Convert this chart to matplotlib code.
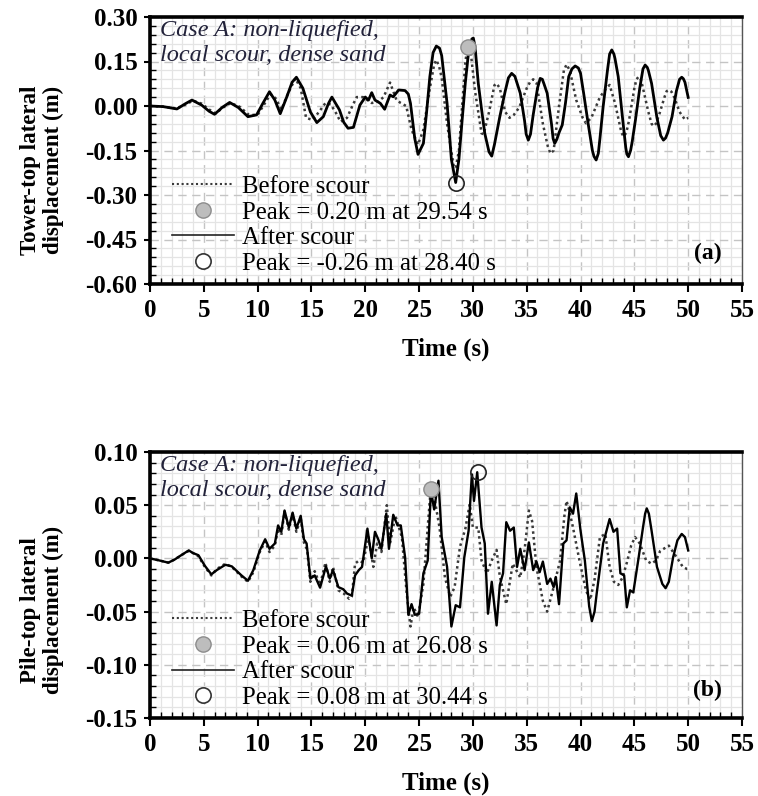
import numpy as np
import matplotlib
matplotlib.use("Agg")
import matplotlib.pyplot as plt
from matplotlib.lines import Line2D
from matplotlib.ticker import MultipleLocator

plt.rcParams['font.family'] = ['Liberation Serif', 'DejaVu Serif']

# ---------------- Data ----------------
# Panel (a): tower-top lateral displacement (m)
a_after_t = [0.0, 1.2, 2.5, 3.3, 3.9, 4.8, 5.5, 6.0, 6.7, 7.4, 8.2, 9.1, 9.9, 10.5, 11.1, 11.6,
             12.1, 12.7, 13.2, 13.6, 14.2, 14.9, 15.5, 16.1, 16.6, 16.9, 17.6, 18.0, 18.4, 18.9,
             19.5, 20.0, 20.3, 20.6, 20.9, 21.4, 21.8, 22.3, 22.6, 23.1, 23.7, 24.0, 24.2, 24.6,
             24.9, 25.4, 25.7, 26.0, 26.3, 26.6, 26.9, 27.1, 27.6, 28.0, 28.4, 28.7, 29.0, 29.3,
             29.6, 29.9, 30.04, 30.2, 30.5, 30.8, 31.1, 31.5, 31.75, 32.0, 32.5, 33.0, 33.3, 33.6,
             33.9, 34.4, 34.8, 34.95, 35.15, 35.35, 35.6, 36.0, 36.25, 36.45, 36.6, 36.9, 37.3,
             37.45, 37.6, 37.8, 38.0, 38.3, 38.6, 38.9, 39.2, 39.5, 39.8, 40.0, 40.3, 40.7, 41.1,
             41.25, 41.45, 41.65, 41.8, 42.1, 42.5, 42.7, 42.9, 43.1, 43.2, 43.5, 43.9, 44.2,
             44.3, 44.45, 44.65, 44.8, 45.1, 45.5, 45.8, 46.0, 46.2, 46.3, 46.6, 47.1, 47.45,
             47.7, 47.9, 48.1, 48.5, 48.9, 49.2, 49.4, 49.55, 49.7, 50.0]
a_after_v = [0.000, -0.002, -0.010, 0.008, 0.020, 0.003, -0.018, -0.028, -0.005, 0.012, -0.005,
             -0.036, -0.030, 0.010, 0.048, 0.020, -0.026, 0.030, 0.080, 0.097, 0.060, -0.020,
             -0.056, -0.036, 0.010, 0.030, -0.013, -0.055, -0.075, -0.072, 0.003, 0.030, 0.020,
             0.045, 0.020, 0.009, -0.011, 0.037, 0.031, 0.054, 0.052, 0.040, 0.009, -0.110,
             -0.163, -0.126, -0.020, 0.099, 0.180, 0.202, 0.195, 0.170, 0.009, -0.180, -0.258,
             -0.180, -0.047, 0.080, 0.183, 0.226, 0.229, 0.200, 0.076, -0.010, -0.092, -0.155,
             -0.169, -0.130, -0.036, 0.050, 0.095, 0.110, 0.100, 0.043, -0.050, -0.095, -0.115,
             -0.095, -0.030, 0.060, 0.093, 0.090, 0.075, 0.043, -0.060, -0.110, -0.126, -0.112,
             -0.090, -0.064, 0.010, 0.099, 0.125, 0.135, 0.128, 0.110, 0.040, -0.058, -0.150,
             -0.170, -0.182, -0.160, -0.110, -0.002, 0.120, 0.175, 0.189, 0.175, 0.160, 0.099,
             -0.040, -0.140, -0.162, -0.171, -0.150, -0.120, -0.047, 0.060, 0.125, 0.138, 0.130,
             0.120, 0.076, -0.040, -0.100, -0.115, -0.108, -0.090, -0.036, 0.050, 0.090, 0.097,
             0.092, 0.080, 0.029]

a_before_t = [0.0, 1.2, 2.5, 3.3, 4.0, 4.8, 5.5, 6.1, 6.8, 7.5, 8.3, 9.2, 10.0, 10.6, 11.2, 11.7,
              12.2, 12.8, 13.5, 14.0, 14.5, 15.1, 15.7, 16.3, 16.8, 17.3, 17.7, 18.3, 18.8, 19.2,
              19.8, 20.6, 21.2, 21.7, 22.3, 22.9, 23.3, 23.8, 24.3, 24.9, 25.4, 26.0, 26.4, 26.6,
              26.85, 27.1, 27.6, 28.2, 28.4, 28.7, 29.0, 29.3, 29.54, 29.8, 30.2, 30.8, 31.0, 31.5,
              32.0, 32.2, 32.5, 33.0, 33.4, 33.8, 34.3, 35.0, 35.3, 35.6, 35.9, 36.5, 36.95, 37.2,
              37.5, 38.0, 38.45, 38.7, 39.0, 39.6, 40.2, 40.5, 41.0, 41.8, 42.4, 42.7, 43.2, 43.8,
              44.0, 44.25, 44.5, 45.0, 45.2, 45.4, 45.6, 45.8, 46.3, 46.6, 46.8, 47.0, 47.3, 47.8,
              48.0, 48.2, 48.45, 48.7, 49.2, 49.7, 50.0]
a_before_v = [0.000, -0.002, -0.008, 0.005, 0.018, 0.008, -0.012, -0.025, -0.005, 0.010, -0.002,
              -0.030, -0.030, 0.005, 0.040, 0.025, -0.012, 0.040, 0.093, 0.060, -0.040, -0.047,
              -0.020, 0.010, 0.005, -0.025, -0.053, -0.040, 0.000, 0.030, 0.030, 0.010, 0.015,
              0.030, 0.079, 0.020, 0.010, 0.000, -0.080, -0.130, -0.080, 0.060, 0.140, 0.155,
              0.135, 0.095, -0.060, -0.200, -0.210, -0.150, 0.000, 0.150, 0.206, 0.180, 0.050,
              -0.092, -0.095, -0.020, 0.070, 0.076, 0.060, -0.020, -0.040, -0.030, -0.005, 0.060,
              0.080, 0.090, 0.080, -0.060, -0.135, -0.160, -0.150, 0.000, 0.120, 0.140, 0.120,
              0.020, -0.040, -0.058, -0.040, 0.030, 0.060, 0.071, 0.010, -0.090, -0.103, -0.090,
              -0.050, 0.060, 0.090, 0.099, 0.090, 0.060, -0.020, -0.060, -0.068, -0.060, -0.030,
              0.030, 0.050, 0.054, 0.048, 0.030, -0.020, -0.046, -0.040]

a_peak_before = (29.54, 0.20)
a_peak_after = (28.40, -0.26)

# Panel (b): pile-top lateral displacement (m)
b_after_t = [0.0, 0.9, 1.7, 2.3, 2.9, 3.6, 4.0, 4.5, 5.1, 5.7, 6.2, 7.0, 7.6, 8.5, 9.1, 9.6, 10.2,
             10.7, 11.1, 11.6, 11.9, 12.2, 12.5, 12.9, 13.25, 13.6, 14.0, 14.3, 14.55, 14.9, 15.3,
             15.8, 16.35, 16.7, 17.0, 17.5, 17.96, 18.3, 18.75, 19.05, 19.4, 19.7, 20.2, 20.6,
             20.9, 21.2, 21.5, 21.95, 22.2, 22.6, 23.0, 23.3, 23.7, 24.0, 24.3, 24.6, 25.0, 25.4,
             25.8, 26.1, 26.4, 26.8, 27.1, 27.4, 27.6, 28.0, 28.4, 28.8, 29.2, 29.6, 29.9, 30.1,
             30.4, 30.8, 31.1, 31.4, 31.75, 32.2, 32.5, 32.8, 33.1, 33.45, 33.8, 34.1, 34.4, 34.8,
             35.2, 35.6, 35.9, 36.2, 36.5, 36.9, 37.2, 37.5, 37.7, 38.0, 38.4, 38.7, 39.0, 39.3,
             39.6, 40.0, 40.4, 40.8, 41.05, 41.3, 41.5, 42.1, 42.7, 43.06, 43.4, 43.7, 44.05,
             44.3, 44.6, 44.9, 45.4, 45.8, 46.0, 46.15, 46.35, 46.6, 47.1, 47.6, 47.9, 48.2,
             48.6, 49.0, 49.4, 49.7, 50.0]
b_after_v = [0.000, -0.002, -0.004, -0.001, 0.003, 0.0075, 0.005, 0.003, -0.007, -0.015, -0.011,
             -0.006, -0.0075, -0.016, -0.021, -0.011, 0.0075, 0.018, 0.009, 0.014, 0.031, 0.025,
             0.045, 0.029, 0.043, 0.028, 0.040, 0.018, 0.014, -0.019, -0.016, -0.0275, -0.0075,
             -0.019, -0.011, -0.027, -0.029, -0.033, -0.035, -0.016, -0.011, -0.008, 0.028, 0.000,
             0.025, 0.018, 0.009, 0.042, 0.009, 0.041, 0.031, 0.031, 0.001, -0.053, -0.043, -0.053,
             -0.052, -0.014, -0.002, 0.064, 0.046, 0.073, 0.020, 0.003, -0.008, -0.064, -0.044,
             -0.046, 0.001, 0.026, 0.079, 0.054, 0.081, 0.029, 0.014, -0.052, -0.022, -0.063,
             -0.025, -0.014, 0.034, 0.026, 0.029, -0.008, 0.009, -0.011, 0.015, -0.011, -0.003,
             -0.013, -0.003, -0.024, -0.019, -0.027, -0.0175, -0.043, 0.014, 0.017, 0.048, 0.042,
             0.061, 0.026, -0.002, -0.045, -0.059, -0.050, -0.033, 0.014, 0.037, 0.025, 0.028,
             -0.014, -0.016, -0.046, -0.030, -0.032, 0.001, 0.029, 0.042, 0.047, 0.042, 0.026,
             -0.008, -0.024, -0.028, -0.022, 0.001, 0.017, 0.023, 0.020, 0.0075]

b_before_t = [0.0, 0.9, 1.7, 2.3, 2.9, 3.6, 4.0, 4.5, 5.1, 5.7, 6.2, 7.0, 7.6, 8.5, 9.1, 9.6,
              10.2, 10.7, 11.1, 11.6, 11.9, 12.2, 12.5, 12.9, 13.25, 13.6, 14.0, 14.3, 14.6, 14.9,
              15.3, 15.8, 16.3, 16.7, 17.0, 17.5, 18.0, 18.5, 18.75, 19.05, 19.4, 19.8, 20.3,
              20.75, 21.1, 21.5, 22.0, 22.3, 22.8, 23.4, 23.85, 24.2, 24.5, 24.9, 25.4, 25.86,
              26.08, 26.4, 26.9, 27.4, 27.9, 28.3, 28.8, 29.3, 29.7, 30.0, 30.5, 30.8, 31.3, 31.75,
              32.2, 32.5, 33.1, 33.7, 34.4, 34.8, 35.2, 35.5, 35.9, 36.5, 36.9, 37.5, 38.1, 38.5,
              38.7, 38.95, 39.3, 39.9, 40.5, 40.9, 41.3, 41.8, 42.3, 42.7, 43.1, 43.5, 43.9, 44.3,
              44.7, 45.07, 45.5, 46.1, 46.6, 47.0, 47.4, 48.2, 49.0, 49.5, 49.9, 50.0]
b_before_v = [0.000, -0.002, -0.004, -0.001, 0.003, 0.007, 0.005, 0.002, -0.008, -0.016, -0.010,
              -0.005, -0.008, -0.017, -0.022, -0.013, 0.006, 0.016, 0.006, 0.012, 0.028, 0.022,
              0.044, 0.027, 0.042, 0.025, 0.038, 0.015, 0.008, -0.022, -0.012, -0.025, -0.004,
              -0.022, -0.008, -0.030, -0.033, -0.038, -0.036, -0.005, -0.002, -0.004, 0.020,
              -0.008, 0.014, 0.006, 0.050, 0.014, 0.040, 0.020, -0.033, -0.064, -0.046, -0.055,
              -0.024, 0.037, 0.065, 0.058, 0.029, -0.018, -0.036, -0.027, 0.011, 0.028, 0.051,
              0.029, 0.029, -0.002, -0.014, -0.002, 0.008, -0.017, -0.043, -0.005, -0.018, 0.008,
              0.045, 0.035, -0.008, -0.040, -0.050, -0.027, -0.002, 0.040, 0.054, 0.045, 0.029,
              -0.002, -0.030, -0.039, -0.020, 0.020, 0.023, -0.008, -0.022, -0.025, -0.018,
              -0.004, 0.012, 0.020, 0.014, -0.002, -0.005, -0.002, 0.007, 0.012, 0.000, -0.008,
              -0.010, -0.010]

b_peak_before = (26.08, 0.065)
b_peak_after = (30.44, 0.081)

x_ticks = [0, 5, 10, 15, 20, 25, 30, 35, 40, 45, 50, 55]
a_yticks = [0.30, 0.15, 0.00, -0.15, -0.30, -0.45, -0.60]
b_yticks = [0.10, 0.05, 0.00, -0.05, -0.10, -0.15]

a_ylabel = "Tower-top lateral\ndisplacement (m)"
b_ylabel = "Pile-top lateral\ndisplacement (m)"
a_legend = ["Before scour", "Peak = 0.20 m at 29.54 s", "After scour", "Peak = -0.26 m at 28.40 s"]
b_legend = ["Before scour", "Peak = 0.06 m at 26.08 s", "After scour", "Peak = 0.08 m at 30.44 s"]
case_text = "Case A: non-liquefied,\nlocal scour, dense sand"

# ---------------- Figure ----------------
fig = plt.figure(figsize=(7.58, 7.96), dpi=100)
W, H = 758, 796
ax1 = fig.add_axes([150 / W, 1 - 284 / H, 592 / W, 267 / H])
ax2 = fig.add_axes([150 / W, 1 - 718 / H, 592 / W, 266 / H])

DOT = (0, (1.0, 1.3))
GREY_FC = '#bdbdbd'


def style(ax, yticks, yminor, ylabel, label, label_y, ylab_y):
    ax.set_xlim(0, 55)
    ax.set_ylim(min(yticks), max(yticks))
    ax.set_xticks(x_ticks)
    ax.set_yticks(yticks)
    ax.set_yticklabels([f"{v:.2f}" for v in yticks])
    ax.xaxis.set_minor_locator(MultipleLocator(1))
    ax.yaxis.set_minor_locator(MultipleLocator(yminor))
    ax.set_axisbelow(True)
    ax.grid(which='minor', color='#e4e4e4', lw=0.9, ls='-')
    ax.grid(which='major', color='#c4c4c4', lw=1.0, ls=(0, (6, 4)))
    ax.tick_params(axis='x', which='major', direction='out', length=6, width=1.5,
                   labelsize=18, pad=5)
    ax.tick_params(axis='y', which='major', direction='out', length=4, width=1.5,
                   labelsize=18, pad=5)
    ax.tick_params(which='minor', direction='in', length=4, width=1.0)
    for lab in ax.get_xticklabels() + ax.get_yticklabels():
        lab.set_fontweight('bold')
    for s in ['left', 'bottom', 'top']:
        ax.spines[s].set_linewidth(2.6)
        ax.spines[s].set_color('black')
    ax.spines['right'].set_linewidth(1.0)
    ax.spines['right'].set_color('#555555')
    ax.set_xlabel("Time (s)", fontsize=18, fontweight='bold', labelpad=11)
    ax.set_ylabel(ylabel, fontsize=16.5, fontweight='bold', linespacing=1.1)
    ax.yaxis.set_label_coords(-0.146, ylab_y)
    ax.text(0.966, label_y, label, transform=ax.transAxes, ha='right', va='center',
            fontsize=17, fontweight='bold')
    ax.text(0.017, 0.99, case_text, transform=ax.transAxes, ha='left', va='top',
            fontsize=17.5, fontstyle='italic', color='#22223a', linespacing=1.25)


def draw(ax, bt, bv, at, av, pb, pa, labels, solid_lw):
    ax.plot(bt, bv, color='#3a3a3a', lw=1.8, ls=DOT, zorder=3)
    ax.plot(at, av, color='black', lw=solid_lw, ls='-', zorder=4, solid_joinstyle='round')
    ax.plot([pb[0]], [pb[1]], 'o', ms=11, mfc=GREY_FC, mec='#8c8c8c', mew=1.0, zorder=5)
    ax.plot([pa[0]], [pa[1]], 'o', ms=11, mfc='none', mec='#222222', mew=1.2, zorder=5)
    handles = [
        Line2D([], [], color='#3a3a3a', lw=1.5, ls=DOT),
        Line2D([], [], ls='none', marker='o', ms=11, mfc=GREY_FC, mec='#8c8c8c', mew=1.0),
        Line2D([], [], color='#222222', lw=1.2, ls='-'),
        Line2D([], [], ls='none', marker='o', ms=11, mfc='white', mec='#333333', mew=1.2),
    ]
    leg = ax.legend(handles, labels, loc='lower left', bbox_to_anchor=(0.037, 0.035),
                    frameon=False, fontsize=17.8, handlelength=2.5, handletextpad=0.33,
                    labelspacing=0.13, borderpad=0.0, borderaxespad=0.0)
    leg.set_zorder(6)


draw(ax1, a_before_t, a_before_v, a_after_t, a_after_v, a_peak_before, a_peak_after, a_legend, 2.0)
style(ax1, a_yticks, 0.03, a_ylabel, "(a)", 0.116, 0.427)
draw(ax2, b_before_t, b_before_v, b_after_t, b_after_v, b_peak_before, b_peak_after, b_legend, 1.7)
style(ax2, b_yticks, 0.01, b_ylabel, "(b)", 0.105, 0.406)

fig.savefig("out.png", dpi=100)
